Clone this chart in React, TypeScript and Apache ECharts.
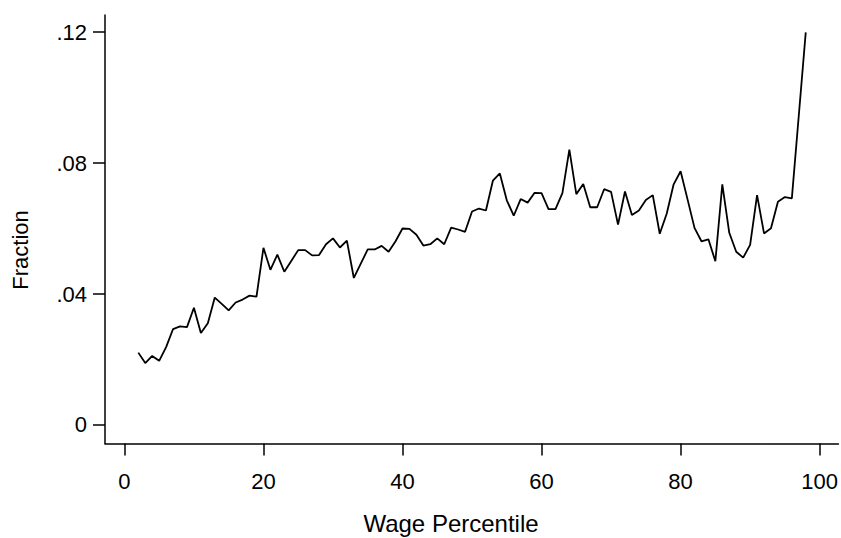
import React, { useEffect, useRef } from "react";
import * as echarts from "echarts";

const percentiles = [
  2, 3, 4, 5, 6, 7, 8, 9, 10, 11, 12, 13, 14, 15, 16, 17, 18, 19, 20, 21, 22, 23, 24, 25,
  26, 27, 28, 29, 30, 31, 32, 33, 34, 35, 36, 37, 38, 39, 40, 41, 42, 43, 44, 45, 46, 47, 48, 49,
  50, 51, 52, 53, 54, 55, 56, 57, 58, 59, 60, 61, 62, 63, 64, 65, 66, 67, 68, 69, 70, 71, 72, 73,
  74, 75, 76, 77, 78, 79, 80, 81, 82, 83, 84, 85, 86, 87, 88, 89, 90, 91, 92, 93, 94, 95, 96, 97, 98,
];

const fractions = [
  0.0221, 0.0189, 0.0211, 0.0196, 0.0238, 0.0293, 0.0301, 0.0299, 0.0358, 0.0281, 0.0311, 0.0389,
  0.037, 0.035, 0.0374, 0.0383, 0.0395, 0.0392, 0.0541, 0.0474, 0.052, 0.0468, 0.0501, 0.0534,
  0.0534, 0.0518, 0.0519, 0.0552, 0.057, 0.0542, 0.0563, 0.0449, 0.0493, 0.0536, 0.0536, 0.0547,
  0.0529, 0.0561, 0.06, 0.0599, 0.0581, 0.0548, 0.0552, 0.057, 0.0552, 0.0603, 0.0597, 0.059,
  0.0652, 0.0661, 0.0655, 0.0746, 0.0768, 0.0686, 0.0639, 0.069, 0.0679, 0.0709, 0.0708, 0.0659,
  0.0659, 0.0708, 0.0841, 0.0705, 0.0736, 0.0665, 0.0665, 0.072, 0.0712, 0.0612, 0.0713, 0.0641,
  0.0655, 0.0687, 0.0702, 0.0584, 0.0645, 0.0735, 0.0775, 0.0689, 0.0602, 0.0561, 0.0567, 0.05,
  0.0735, 0.0587, 0.0529, 0.0511, 0.055, 0.0702, 0.0585, 0.0601, 0.0682, 0.0696, 0.0692, 0.0945,
  0.1199,
];

const xTicks = [0, 20, 40, 60, 80, 100];
const yTicks = [0, 0.04, 0.08, 0.12];

const xTitle = "Wage Percentile";
const yTitle = "Fraction";

const FONT = "'Liberation Sans', Arial, Helvetica, sans-serif";

export default function App() {
  const ref = useRef<HTMLDivElement>(null);

  useEffect(() => {
    if (!ref.current) return;
    const chart = echarts.init(ref.current, null, { renderer: "svg" });
    const data = percentiles.map((p, i) => [p, fractions[i]]);
    chart.setOption({
      animation: false,
      backgroundColor: "#ffffff",
      grid: { left: 105, right: 0, top: 15, bottom: 94.5, containLabel: false },
      graphic: [
        {
          type: "text",
          x: 451,
          y: 523,
          style: {
            text: xTitle,
            fill: "#000",
            font: `24px ${FONT}`,
            textAlign: "center",
            textVerticalAlign: "middle",
          },
        },
        {
          type: "text",
          x: 20,
          y: 250,
          rotation: Math.PI / 2,
          style: {
            text: yTitle,
            fill: "#000",
            font: `22px ${FONT}`,
            textAlign: "center",
            textVerticalAlign: "middle",
          },
        },
      ],
      xAxis: {
        type: "value",
        min: -2.79,
        max: 102.7,
        axisLine: { show: true, onZero: false, lineStyle: { color: "#000", width: 1.5 } },
        axisTick: {
          show: true,
          inside: false,
          length: 12,
          customValues: xTicks,
          lineStyle: { color: "#000", width: 1.5 },
        },
        axisLabel: {
          show: true,
          customValues: xTicks,
          margin: 27,
          color: "#000",
          fontSize: 22,
          fontFamily: FONT,
          formatter: (v: number) => String(v),
        },
        splitLine: { show: false },
      },
      yAxis: {
        type: "value",
        min: -0.00565,
        max: 0.1252,
        axisLine: { show: true, onZero: false, lineStyle: { color: "#000", width: 1.5 } },
        axisTick: {
          show: true,
          inside: false,
          length: 12,
          customValues: yTicks,
          lineStyle: { color: "#000", width: 1.5 },
        },
        axisLabel: {
          show: true,
          customValues: yTicks,
          margin: 18,
          color: "#000",
          fontSize: 22,
          fontFamily: FONT,
          formatter: (v: number) => (Math.abs(v) < 1e-9 ? "0" : v.toFixed(2).replace(/^0/, "")),
        },
        splitLine: { show: false },
      },
      series: [
        {
          type: "line",
          data,
          symbol: "none",
          lineStyle: { color: "#000", width: 1.8 },
          clip: false,
        },
      ],
    });
    return () => chart.dispose();
  }, []);

  return (
    <div
      ref={ref}
      style={{ position: "fixed", left: 0, top: 0, width: 841, height: 538, background: "#fff" }}
    />
  );
}
